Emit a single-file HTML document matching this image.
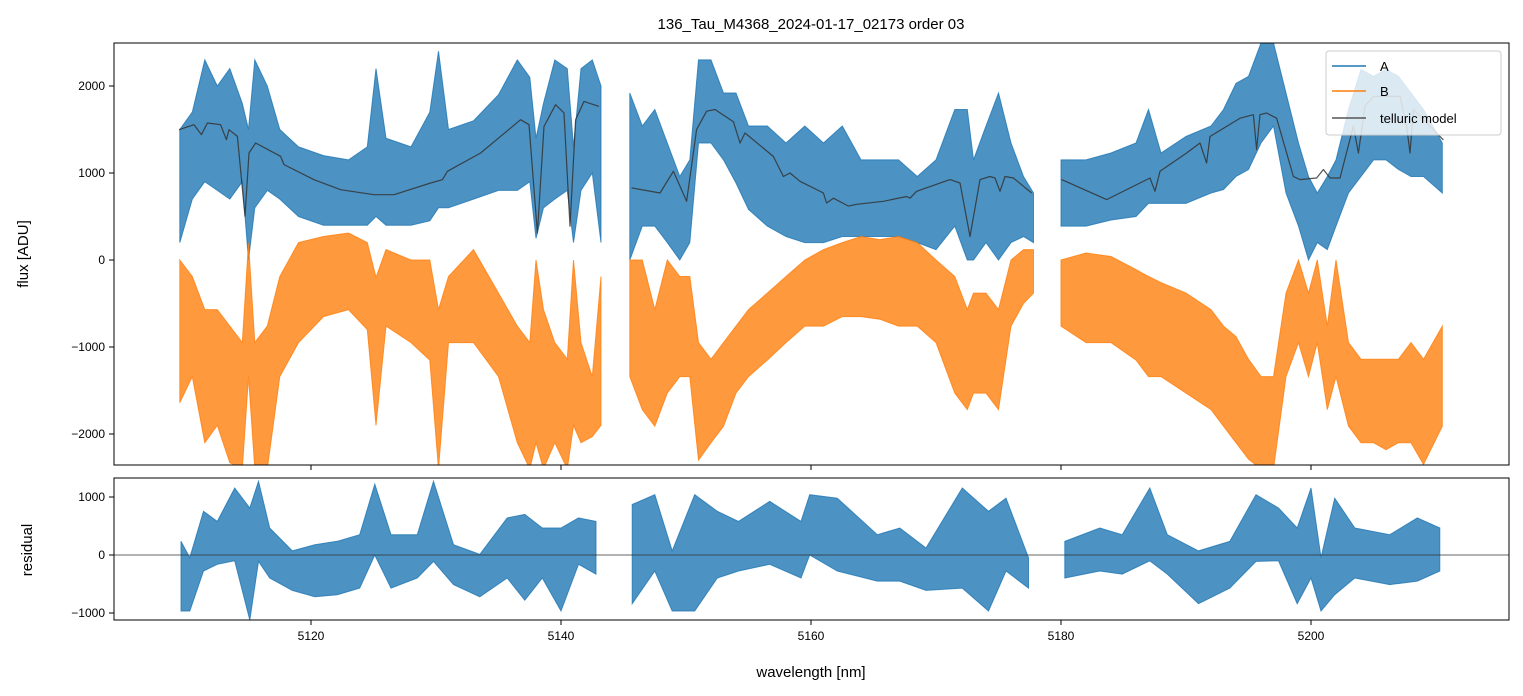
<!DOCTYPE html>
<html><head><meta charset="utf-8">
<style>
html,body{margin:0;padding:0;background:#fff;}
svg{display:block;font-family:"Liberation Sans","DejaVu Sans",sans-serif;}
</style></head>
<body>
<svg id="chart" width="1523" height="696" viewBox="0 0 1523 696" xmlns="http://www.w3.org/2000/svg">
<defs>
<clipPath id="clipTop"><rect x="114" y="43" width="1395" height="422"/></clipPath>
<clipPath id="clipBot"><rect x="114" y="478" width="1395" height="142"/></clipPath>
</defs>
<rect width="1523" height="696" fill="#fff"/>
<text x="811" y="29" text-anchor="middle" font-size="15">136_Tau_M4368_2024-01-17_02173  order 03</text>
<g id="topPanel"></g>
<g id="botPanel"></g>
<text transform="translate(28,254) rotate(-90)" text-anchor="middle" font-size="15">flux [ADU]</text>
<text transform="translate(32,550) rotate(-90)" text-anchor="middle" font-size="15">residual</text>
<text x="811" y="677" text-anchor="middle" font-size="15">wavelength [nm]</text>
<g>
<rect x="1326" y="51" width="175" height="84" rx="3" fill="#fff" fill-opacity="0.8" stroke="#ccc"/>
<line x1="1332" y1="66" x2="1366" y2="66" stroke="#1f77b4" stroke-width="1.5"/>
<text x="1380" y="71" font-size="13">A</text>
<line x1="1332" y1="91" x2="1366" y2="91" stroke="#ff7f0e" stroke-width="1.5"/>
<text x="1380" y="96" font-size="13">B</text>
<line x1="1332" y1="118" x2="1366" y2="118" stroke="#555" stroke-width="1.5"/>
<text x="1380" y="123" font-size="13">telluric model</text>
</g>
</svg>
<script>
// ---- data ----
const seg1W=[5109.5,5110.5,5111.5,5112.5,5113.5,5114.5,5115,5115.5,5116.5,5117.5,5119,5121,5123,5124.5,5125.2,5126,5128,5129.5,5130.2,5131,5133,5135,5136.5,5137.5,5138,5138.6,5139.5,5140.5,5141,5141.6,5142.5,5143.2];
const seg1AHi=[1500,1700,2300,2000,2200,1800,1500,2300,2000,1500,1300,1200,1150,1300,2200,1400,1300,1700,2400,1500,1600,1900,2300,2100,1400,1800,2300,2200,1300,2200,2300,2000];
const seg1ALo=[200,700,900,800,700,900,0,600,800,700,500,400,400,400,500,400,400,450,600,600,700,800,800,900,250,600,700,800,200,800,1000,200];
const seg1BHi=[0,-190,-570,-570,-760,-950,195,-950,-760,-190,200,270,310,200,-200,120,0,0,-570,-190,120,-380,-760,-950,0,-570,-950,-1140,0,-950,-1340,-190];
const seg1BLo=[-1640,-1340,-2100,-1900,-2330,-2400,-1340,-2400,-2400,-1340,-950,-650,-570,-800,-1900,-760,-950,-1150,-2400,-950,-950,-1340,-2100,-2400,-2100,-2400,-2100,-2400,-1900,-2100,-2030,-1900];

const seg2W=[5145.5,5146.5,5147.5,5148.5,5149.5,5150.3,5151,5152,5153,5154,5155,5156.5,5158,5159.5,5161,5162.5,5164,5165.5,5167,5168.5,5170,5171.5,5172.5,5173,5174,5175,5176,5177,5177.8];
const seg2AHi=[1920,1540,1730,1345,960,1150,2300,2300,1920,1920,1540,1540,1345,1540,1345,1540,1150,1150,1150,960,1150,1730,1730,1150,1540,1920,1345,960,770];
const seg2ALo=[0,390,390,200,0,200,1345,1345,1150,885,580,390,270,200,200,270,270,270,270,200,120,390,0,0,200,0,200,270,200];
const seg2BHi=[0,0,-570,0,-190,-190,-950,-1140,-950,-760,-570,-380,-190,0,120,200,270,235,270,200,0,-190,-570,-380,-380,-570,0,120,120];
const seg2BLo=[-1340,-1720,-1910,-1530,-1340,-1340,-2300,-2100,-1910,-1530,-1340,-1150,-950,-760,-760,-650,-650,-680,-760,-760,-950,-1530,-1720,-1530,-1530,-1720,-760,-500,-380];

const seg3W=[5180,5182,5184,5186,5187,5188,5190,5192,5193,5194,5195,5196,5197,5198,5199,5199.8,5200.5,5201.3,5202,5203,5204,5205,5206,5207,5208,5209,5210.5];
const seg3AHi=[1150,1150,1230,1345,1730,1230,1420,1540,1730,2030,2110,2494,2494,1920,1345,960,770,960,1150,1730,2190,2110,2190,2110,1920,1730,1345];
const seg3ALo=[390,390,460,500,650,650,650,770,810,960,1040,1345,1540,770,390,0,200,120,390,770,960,1150,1150,1040,960,960,770];
const seg3BHi=[0,80,40,-110,-190,-260,-380,-570,-760,-880,-1140,-1340,-1340,-380,0,-380,0,-760,0,-950,-1140,-1140,-1140,-1140,-950,-1140,-760];
const seg3BLo=[-760,-950,-950,-1150,-1340,-1340,-1530,-1720,-1910,-2100,-2290,-2400,-2400,-1340,-950,-1340,-950,-1720,-1340,-1910,-2100,-2100,-2180,-2100,-2100,-2350,-1910];

const res1W=[5109.6,5110.3,5111.4,5112.5,5113.9,5115.1,5115.8,5116.7,5118.5,5120.3,5122.1,5123.9,5125.1,5126.4,5128.5,5129.8,5131.4,5133.5,5135.7,5137.1,5138.5,5140.0,5141.4,5142.8];
const res1Hi=[236,-46,753,580,1155,810,1270,465,70,178,236,350,1220,350,350,1270,178,10,640,700,465,465,640,580];
const res1Lo=[-966,-966,-276,-160,-100,-1121,-110,-396,-610,-720,-684,-570,0,-570,-396,-110,-510,-720,-396,-780,-396,-966,-160,-330];
const res2W=[5145.7,5147.5,5148.9,5150.7,5152.5,5154.2,5156.7,5159.2,5159.9,5162.1,5165.3,5167.1,5169.2,5172.1,5174.2,5175.6,5177.4];
const res2Hi=[870,1040,70,1040,753,580,925,580,1040,980,350,465,120,1155,753,980,-46];
const res2Lo=[-840,-276,-966,-966,-396,-276,-160,-396,0,-276,-450,-450,-610,-570,-966,-276,-570];
const res3W=[5180.3,5183.1,5184.9,5187.1,5188.5,5191.0,5193.5,5195.6,5197.4,5198.9,5200.0,5200.8,5201.9,5203.5,5206.3,5208.5,5210.3];
const res3Hi=[235,465,350,1155,350,70,235,1040,810,465,1155,-46,980,465,350,640,465];
const res3Lo=[-396,-276,-330,-100,-330,-840,-570,-110,-100,-840,-396,-966,-684,-396,-510,-450,-276];

const tell1W=[5109.44,5110.64,5111.23,5111.71,5112.77,5113.23,5113.44,5114.11,5114.72,5115.04,5115.57,5117.57,5117.84,5120.24,5122.37,5125.04,5126.64,5129.57,5130.51,5130.91,5133.57,5136.77,5137.44,5138.11,5138.64,5139.57,5140.24,5140.72,5141.17,5141.84,5143.04];
const tell1V=[1498,1555,1440,1575,1555,1383,1498,1421,502,1230,1345,1192,1096,923,808,751,751,885,923,1019,1230,1613,1555,310,1536,1785,1690,387,1613,1823,1766];
const tell2W=[5145.65,5147.92,5148.99,5150.05,5150.85,5151.65,5152.32,5153.79,5154.32,5154.72,5156.99,5157.79,5158.32,5159.12,5160.99,5161.25,5161.79,5162.99,5163.65,5165.79,5167.65,5167.92,5168.45,5171.12,5171.92,5172.72,5173.52,5174.32,5174.72,5175.12,5175.52,5176.19,5177.65];
const tell2V=[829,770,1020,675,1500,1710,1730,1590,1345,1460,1190,960,1000,905,770,655,710,620,640,675,730,710,790,924,885,270,924,960,943,790,960,943,770];
const tell3W=[5180.05,5183.65,5187.12,5187.52,5187.92,5190.05,5191.12,5191.65,5191.92,5194.32,5195.39,5195.65,5195.92,5196.45,5197.25,5198.59,5199.12,5200.45,5200.99,5201.52,5202.32,5203.39,5203.79,5204.32,5204.99,5207.12,5207.65,5207.92,5208.19,5210.59];
const tell3V=[924,694,943,790,1020,1230,1345,1115,1420,1630,1670,1270,1670,1690,1630,960,924,943,1040,943,943,1540,1230,1770,1880,1880,1540,1230,1730,1380];

const xTicks=[5120,5140,5160,5180,5200];
const yTopTicks=[-2000,-1000,0,1000,2000];
const yBotTicks=[-1000,0,1000];

// ---- axes ----
const X=w=>311+(w-5120)*12.5;
const YT=v=>260-v*0.087;
const YB=v=>555-v*0.058;
const NS="http://www.w3.org/2000/svg";
function mk(tag,attrs,parent){const e=document.createElementNS(NS,tag);for(const k in attrs)e.setAttribute(k,attrs[k]);parent.appendChild(e);return e;}
const topG=document.getElementById('topPanel'), botG=document.getElementById('botPanel');
const gT=mk('g',{'clip-path':'url(#clipTop)'},topG);
const gB=mk('g',{'clip-path':'url(#clipBot)'},botG);

function band(g,W,hi,lo,Y,color,name){
  let pts=W.map((w,i)=>X(w).toFixed(1)+','+Y(hi[i]).toFixed(1));
  for(let i=W.length-1;i>=0;i--)pts.push(X(W[i]).toFixed(1)+','+Y(lo[i]).toFixed(1));
  const p=mk('polygon',{points:pts.join(' '),fill:color,'fill-opacity':0.8,stroke:color,'stroke-opacity':0.8,'stroke-width':1},g);
  
  
}
function line(g,W,V,Y,name){
  const p=mk('polyline',{points:W.map((w,i)=>X(w).toFixed(1)+','+Y(V[i]).toFixed(1)).join(' '),fill:'none',stroke:'#333','stroke-opacity':0.85,'stroke-width':1.2,'stroke-linejoin':'round'},g);
  
  
}
band(gT,seg1W,seg1AHi,seg1ALo,YT,'#1f77b4','series-a-seg1');
band(gT,seg2W,seg2AHi,seg2ALo,YT,'#1f77b4','series-a-seg2');
band(gT,seg3W,seg3AHi,seg3ALo,YT,'#1f77b4','series-a-seg3');
band(gT,seg1W,seg1BHi,seg1BLo,YT,'#ff7f0e','series-b-seg1');
band(gT,seg2W,seg2BHi,seg2BLo,YT,'#ff7f0e','series-b-seg2');
band(gT,seg3W,seg3BHi,seg3BLo,YT,'#ff7f0e','series-b-seg3');
line(gT,tell1W,tell1V,YT,'telluric-model-seg1');
line(gT,tell2W,tell2V,YT,'telluric-model-seg2');
line(gT,tell3W,tell3V,YT,'telluric-model-seg3');
band(gB,res1W,res1Hi,res1Lo,YB,'#1f77b4','residual-seg1');
band(gB,res2W,res2Hi,res2Lo,YB,'#1f77b4','residual-seg2');
band(gB,res3W,res3Hi,res3Lo,YB,'#1f77b4','residual-seg3');
const zl=mk('line',{x1:114,x2:1509,y1:YB(0),y2:YB(0),stroke:'#333','stroke-width':0.8},botG);



mk('rect',{x:114,y:43,width:1395,height:422,fill:'none',stroke:'#000','stroke-width':1},topG);
mk('rect',{x:114,y:478,width:1395,height:142,fill:'none',stroke:'#000','stroke-width':1},botG);

xTicks.forEach(t=>{
  const x=X(t);
  mk('line',{x1:x,x2:x,y1:465,y2:470,stroke:'#000'},topG);
  mk('line',{x1:x,x2:x,y1:620,y2:625,stroke:'#000'},botG);
  const tx=mk('text',{x:x,y:640,'text-anchor':'middle','font-size':12},botG);
  tx.textContent=t;
  
  
});
yTopTicks.forEach(t=>{
  const y=YT(t);
  mk('line',{x1:109,x2:114,y1:y,y2:y,stroke:'#000'},topG);
  const tx=mk('text',{x:105,y:y+4,'text-anchor':'end','font-size':12},topG);
  tx.textContent=t<0?'\u2212'+Math.abs(t):t;
  
  
});
yBotTicks.forEach(t=>{
  const y=YB(t);
  mk('line',{x1:109,x2:114,y1:y,y2:y,stroke:'#000'},botG);
  const tx=mk('text',{x:105,y:y+4,'text-anchor':'end','font-size':12},botG);
  tx.textContent=t<0?'\u2212'+Math.abs(t):t;
  
  
});
</script>
</body></html>
